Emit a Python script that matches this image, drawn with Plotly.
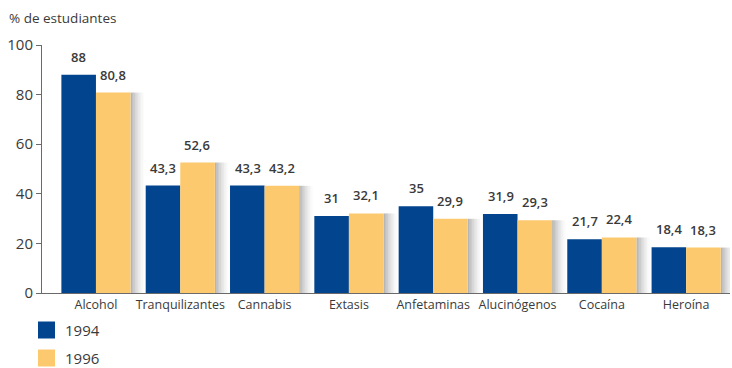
import plotly.graph_objects as go

# Drug-use survey: share of students, 1994 vs 1996
categorias = ["Alcohol", "Tranquilizantes", "Cannabis", "Extasis", "Anfetaminas",
              "Alucinógenos", "Cocaína", "Heroína"]
v1994 = [88, 43.3, 43.3, 31, 35, 31.9, 21.7, 18.4]
v1996 = [80.8, 52.6, 43.2, 32.1, 29.9, 29.3, 22.4, 18.3]
etiquetas_1994 = ["88", "43,3", "43,3", "31", "35", "31,9", "21,7", "18,4"]
etiquetas_1996 = ["80,8", "52,6", "43,2", "32,1", "29,9", "29,3", "22,4", "18,3"]
anios = ["1994", "1996"]

AZUL = "#02448D"
AMARILLO = "#FCC96E"
TEXTO = "#3a3a3a"
FUENTE = "Open Sans"
ANCHO = 0.41

# plot area in pixels, used to place the legend and title in paper units
IZQ, DER, ARR, ABA = 42, 730, 45, 293
W_PLOT, H_PLOT = DER - IZQ, ABA - ARR


def px_x(px):
    return (px - IZQ) / W_PLOT


def px_y(py):
    return (ABA - py) / H_PLOT


fig = go.Figure()

# soft drop shadow to the right of each pair of bars
pasos = 9
for i in range(pasos):
    alpha = 0.45 * (1 - i / pasos) ** 1.5
    fig.add_trace(go.Bar(
        x=categorias, y=v1996,
        offset=ANCHO + i * 0.018, width=0.018,
        marker=dict(color=f"rgba(90,90,90,{alpha:.3f})", line=dict(width=0)),
        showlegend=False, hoverinfo="skip",
    ))

fig.add_trace(go.Bar(
    x=categorias, y=v1994, name=anios[0], offset=-ANCHO, width=ANCHO,
    marker=dict(color=AZUL, line=dict(width=0)), showlegend=False,
))
fig.add_trace(go.Bar(
    x=categorias, y=v1996, name=anios[1], offset=0, width=ANCHO,
    marker=dict(color=AMARILLO, line=dict(width=0)), showlegend=False,
))

anot = []
for c, a, b, ta, tb in zip(categorias, v1994, v1996, etiquetas_1994, etiquetas_1996):
    for val, txt, dx in ((a, ta, -17), (b, tb, 17)):
        anot.append(dict(
            x=c, y=val, text=txt, showarrow=False, xref="x", yref="y",
            xshift=dx, yshift=7, yanchor="bottom", xanchor="center",
            font=dict(family=FUENTE, size=13, color=TEXTO, weight=600),
        ))

# axis title
anot.append(dict(
    x=px_x(7), y=px_y(18), xref="paper", yref="paper", text="% de estudiantes",
    showarrow=False, xanchor="left", yanchor="middle",
    font=dict(family=FUENTE, size=13.5, color=TEXTO),
))

fig.update_layout(
    width=732, height=368,
    margin=dict(l=IZQ, r=732 - DER, t=ARR, b=368 - ABA),
    paper_bgcolor="white", plot_bgcolor="white",
    barmode="overlay",
    annotations=anot,
    xaxis=dict(
        range=[-0.64, 7.52], showgrid=False, ticks="", zeroline=False,
        showline=True, linecolor="#6a6a6a", linewidth=1,
        tickfont=dict(family=FUENTE, size=12.5, color=TEXTO),
    ),
    yaxis=dict(
        range=[0, 100], dtick=20, showgrid=False, zeroline=False,
        showline=True, linecolor="#6a6a6a", linewidth=1,
        ticks="outside", ticklen=5, tickcolor="#6a6a6a",
        tickfont=dict(family=FUENTE, size=15, color=TEXTO),
    ),
)

# legend swatches and labels, placed below the plot
for k, (anio, col) in enumerate(zip(anios, [AZUL, AMARILLO])):
    yc = 330 + 28 * k
    fig.add_shape(type="rect", xref="paper", yref="paper",
                  x0=px_x(38), x1=px_x(55),
                  y0=px_y(yc + 8.5), y1=px_y(yc - 8.5),
                  fillcolor=col, line=dict(width=0))
    fig.add_annotation(xref="paper", yref="paper", x=px_x(63),
                       y=px_y(yc), text=anio, showarrow=False,
                       xanchor="left", yanchor="middle",
                       font=dict(family=FUENTE, size=15, color=TEXTO))

fig.write_html("out.html")
